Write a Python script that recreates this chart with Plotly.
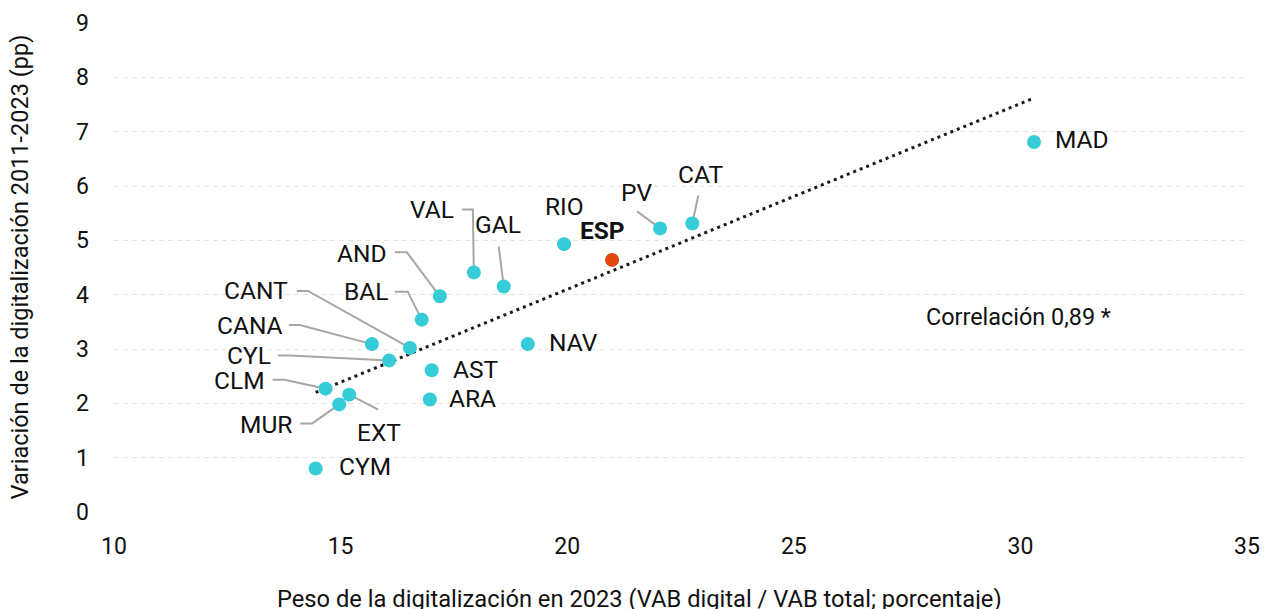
import numpy as np
import plotly.graph_objects as go

# ---------------- data ----------------
regions = ["MAD", "CAT", "PV", "ESP", "RIO", "GAL", "VAL", "AND", "BAL", "CANT",
           "CANA", "CYL", "AST", "ARA", "NAV", "CLM", "EXT", "MUR", "CYM"]
peso_2023 = [30.30, 22.76, 22.05, 20.99, 19.93, 18.60, 17.94, 17.19, 16.79, 16.53,
             15.69, 16.07, 17.01, 16.97, 19.13, 14.67, 15.19, 14.97, 14.45]
variacion = [6.81, 5.31, 5.22, 4.64, 4.93, 4.15, 4.41, 3.97, 3.54, 3.02,
             3.09, 2.79, 2.61, 2.07, 3.09, 2.27, 2.16, 1.98, 0.80]
total_label = "ESP"
x_ticks = [10, 15, 20, 25, 30, 35]
y_ticks = [0, 1, 2, 3, 4, 5, 6, 7, 8, 9]
corr_text = "Correlación 0,89 *"
x_title = "Peso de la digitalización en 2023 (VAB digital / VAB total; porcentaje)"
y_title = "Variación de la digitalización 2011-2023 (pp)"

# ---------------- layout constants ----------------
# page body has an 8px margin, so the figure is offset by 8px
W, H = 1257, 601
ML, MR, MT, MB = 106, 18, 15, 97
XR = [10, 35]
YR = [0, 9]
PX_X = (W - ML - MR) / (XR[1] - XR[0])
PX_Y = (H - MT - MB) / (YR[1] - YR[0])

CYAN = "#35CCD8"
ORANGE = "#E2470E"
LEADER = "#A6A6A6"
FONT = "Roboto"
TXT = "#111111"

# label text offsets from the point (pixels, +dy = down)
label_offsets = {
    "MAD": (48, -2), "CAT": (8, -49), "PV": (-24, -36), "ESP": (-10, -29),
    "RIO": (0, -38), "GAL": (-6, -62), "VAL": (-42, -63), "AND": (-78, -43),
    "BAL": (-56, -28), "CANT": (-154, -57), "CANA": (-122, -19), "CYL": (-140, -5),
    "AST": (44, -1), "ARA": (43, -1), "NAV": (46, -2), "CLM": (-86, -8),
    "EXT": (30, 38), "MUR": (-73, 20), "CYM": (49, -2),
}
# leader line vertices relative to the point (pixels), ending at the point
leaders = {
    "CAT": [(6, -28)],
    "PV": [(-23, -17)],
    "GAL": [(-5, -40)],
    "VAL": [(-12, -63), (-1, -63)],
    "AND": [(-45, -44), (-33, -44)],
    "BAL": [(-27, -28), (-14, -28)],
    "CANT": [(-113, -57), (-102, -57)],
    "CANA": [(-83, -19), (-72, -19)],
    "CYL": [(-111, -5), (-99, -5)],
    "CLM": [(-53, -9), (-41, -9)],
    "MUR": [(-39, 19), (-27, 19)],
    "EXT": [(29, 15)],
}

fig = go.Figure()

# leader lines
lx, ly = [], []
for name, pts in leaders.items():
    i = regions.index(name)
    x0, y0 = peso_2023[i], variacion[i]
    for dx, dy in pts:
        lx.append(x0 + dx / PX_X)
        ly.append(y0 - dy / PX_Y)
    lx.append(x0)
    ly.append(y0)
    lx.append(None)
    ly.append(None)
fig.add_trace(go.Scatter(x=lx, y=ly, mode="lines",
                         line=dict(color=LEADER, width=2),
                         hoverinfo="skip", showlegend=False))

# trend line (OLS over regions, excluding Spain total)
xs = np.array([x for r, x in zip(regions, peso_2023) if r != total_label])
ys = np.array([y for r, y in zip(regions, variacion) if r != total_label])
slope, intercept = np.polyfit(xs, ys, 1)
tx = np.array([xs.min(), xs.max()])
fig.add_trace(go.Scatter(x=tx, y=slope * tx + intercept, mode="lines",
                         line=dict(color="#1a1a1a", width=3, dash="3px,4px"),
                         hoverinfo="skip", showlegend=False))

# points
colors = [ORANGE if r == total_label else CYAN for r in regions]
fig.add_trace(go.Scatter(x=peso_2023, y=variacion, mode="markers",
                         marker=dict(size=14, color=colors, line=dict(width=0)),
                         text=regions, hovertemplate="%{text}: %{x}, %{y}<extra></extra>",
                         showlegend=False))

annotations = []
for r, x, y in zip(regions, peso_2023, variacion):
    dx, dy = label_offsets[r]
    txt = f"<b>{r}</b>" if r == total_label else r
    annotations.append(dict(x=x, y=y, xref="x", yref="y", text=txt, showarrow=False,
                            xshift=dx, yshift=-dy, xanchor="center", yanchor="middle",
                            font=dict(family=FONT, size=24.5, color=TXT)))

annotations.append(dict(x=29.95, y=3.58, xref="x", yref="y", text=corr_text,
                        showarrow=False, xanchor="center", yanchor="middle",
                        font=dict(family=FONT, size=23.4, color=TXT)))
annotations.append(dict(x=0, y=0, xref="paper", yref="paper", text=x_title,
                        showarrow=False, xanchor="center", yanchor="middle",
                        xshift=525, yshift=-87,
                        font=dict(family=FONT, size=23.7, color=TXT)))
annotations.append(dict(x=0, y=0.5, xref="paper", yref="paper", text=y_title,
                        showarrow=False, xanchor="center", yanchor="middle",
                        xshift=-95, textangle=-90,
                        font=dict(family=FONT, size=23.5, color=TXT)))

fig.update_layout(
    width=W, height=H,
    margin=dict(l=ML, r=MR, t=MT, b=MB, autoexpand=False),
    paper_bgcolor="white", plot_bgcolor="white",
    font=dict(family=FONT, size=22, color=TXT),
    annotations=annotations,
    showlegend=False,
    xaxis=dict(range=XR, tickvals=x_ticks, showgrid=False, zeroline=False,
               showline=False, ticks="", ticklabelstandoff=18, automargin=False,
               tickfont=dict(family=FONT, size=23, color=TXT)),
    yaxis=dict(range=YR, tickvals=y_ticks, showgrid=True, gridcolor="#E3E3E3",
               gridwidth=1, griddash="5px,4px", zeroline=False, showline=False,
               ticks="", ticklabelstandoff=24, automargin=False,
               tickfont=dict(family=FONT, size=23, color=TXT)),
)

fig.write_html("out.html")
